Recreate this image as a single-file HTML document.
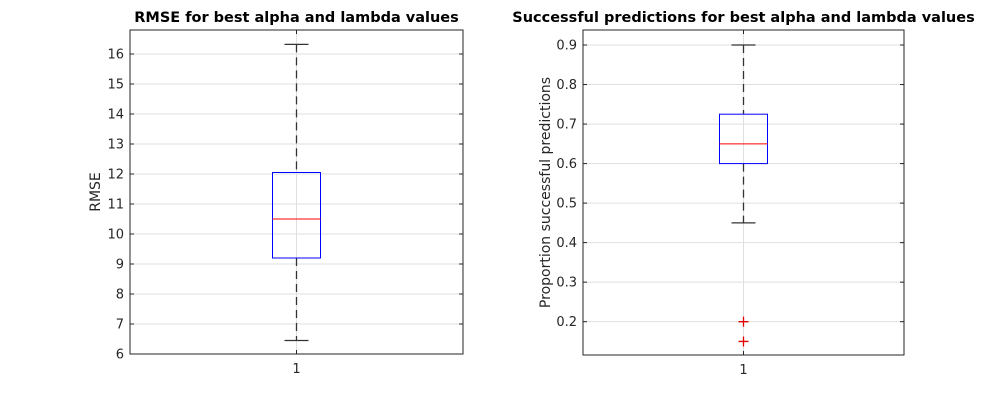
<!DOCTYPE html>
<html><head><meta charset="utf-8"><style>
body{margin:0;background:#fff;width:1000px;height:400px;overflow:hidden}
text{font-family:"DejaVu Sans","Liberation Sans",sans-serif}
</style></head><body>
<svg width="1000" height="400" id="fig"></svg>
<script>
const leftTicks=[6,7,8,9,10,11,12,13,14,15,16];
const leftStats=[6.45,9.2,10.5,12.05,16.32]; // lower whisker, q1, median, q3, upper whisker
const leftOutliers=[];
const rightTicks=[0.2,0.3,0.4,0.5,0.6,0.7,0.8,0.9];
const rightStats=[0.45,0.6,0.65,0.725,0.9];
const rightOutliers=[0.2,0.15];
const categories=["1"];

const NS="http://www.w3.org/2000/svg";
const svg=document.getElementById('fig');
function mk(tag,attrs,parent,txt){const e=document.createElementNS(NS,tag);for(const k in attrs)e.setAttribute(k,attrs[k]);if(txt!==undefined)e.textContent=txt;(parent||svg).appendChild(e);return e;}

function panel(cfg){
  const {x0,x1,y0,y1,vmin,vmax,ticks,stats,outliers,title,ylabel,fmt,key}=cfg;
  const g=mk('g',{});
  
  
  const ys=v=>y1-(v-vmin)/(vmax-vmin)*(y1-y0);
  const xc=(x0+x1)/2;
  ticks.forEach(t=>{const y=ys(t);
    const l=mk('line',{x1:x0,x2:x1,y1:y,y2:y,stroke:'#dfdfdf','stroke-width':1},g);
    
    mk('line',{x1:x0,x2:x0+4,y1:y,y2:y,stroke:'#262626'},g);
    mk('line',{x1:x1-4,x2:x1,y1:y,y2:y,stroke:'#262626'},g);
    const tx=mk('text',{x:x0-6,y:y+4.5,'text-anchor':'end','font-size':13,fill:'#262626'},g,fmt(t));
    
  });
  mk('line',{x1:xc,x2:xc,y1:y0,y2:y1,stroke:'#dfdfdf'},g);
  mk('line',{x1:xc,x2:xc,y1:y1-4,y2:y1,stroke:'#262626'},g);
  mk('line',{x1:xc,x2:xc,y1:y0,y2:y0+4,stroke:'#262626'},g);
  const xl=mk('text',{x:xc,y:y1+19,'text-anchor':'middle','font-size':13,fill:'#262626'},g,categories[0]);
  
  const [lw,q1,med,q3,uw]=stats;
  const w1=mk('line',{x1:xc,x2:xc,y1:ys(uw),y2:ys(q3),stroke:'#333','stroke-width':1.3,'stroke-dasharray':'8,5'},g);
  
  const w2=mk('line',{x1:xc,x2:xc,y1:ys(q1),y2:ys(lw),stroke:'#333','stroke-width':1.3,'stroke-dasharray':'8,5'},g);
  
  [uw,lw].forEach(v=>{const c=mk('line',{x1:xc-12,x2:xc+12,y1:ys(v),y2:ys(v),stroke:'#333','stroke-width':1.3},g);
    });
  const b=mk('rect',{x:xc-24,y:ys(q3),width:48,height:ys(q1)-ys(q3),fill:'none',stroke:'#0000ff'},g);
  
  const m=mk('line',{x1:xc-24,x2:xc+24,y1:ys(med),y2:ys(med),stroke:'#ff0000'},g);
  
  outliers.forEach(v=>{const y=ys(v);
    const o=mk('path',{d:`M${xc-5},${y}H${xc+5}M${xc},${y-5}V${y+5}`,stroke:'#e00000','stroke-width':1.3,fill:'none'},g);
    });
  const fr=mk('rect',{x:x0,y:y0,width:x1-x0,height:y1-y0,fill:'none',stroke:'#262626'},g);
  
  const t=mk('text',{x:xc,y:y0-8,'text-anchor':'middle','font-size':14.5,'font-weight':'bold',fill:'#000'},g,title);
  
  const yl=mk('text',{x:0,y:0,'text-anchor':'middle','font-size':14,fill:'#262626',transform:`translate(${cfg.ylx},${(y0+y1)/2}) rotate(-90)`},g,ylabel);
  
}
panel({key:'rmse',x0:130,x1:463,y0:30,y1:354,vmin:6,vmax:16.8,ticks:leftTicks,stats:leftStats,outliers:leftOutliers,
  title:'RMSE for best alpha and lambda values',ylabel:'RMSE',fmt:v=>String(v),ylx:100});
panel({key:'success',x0:583,x1:904,y0:30,y1:355,vmin:0.1157,vmax:0.938,ticks:rightTicks,stats:rightStats,outliers:rightOutliers,
  title:'Successful predictions for best alpha and lambda values',ylabel:'Proportion successful predictions',fmt:v=>v.toFixed(1),ylx:550});
</script>
</body></html>
